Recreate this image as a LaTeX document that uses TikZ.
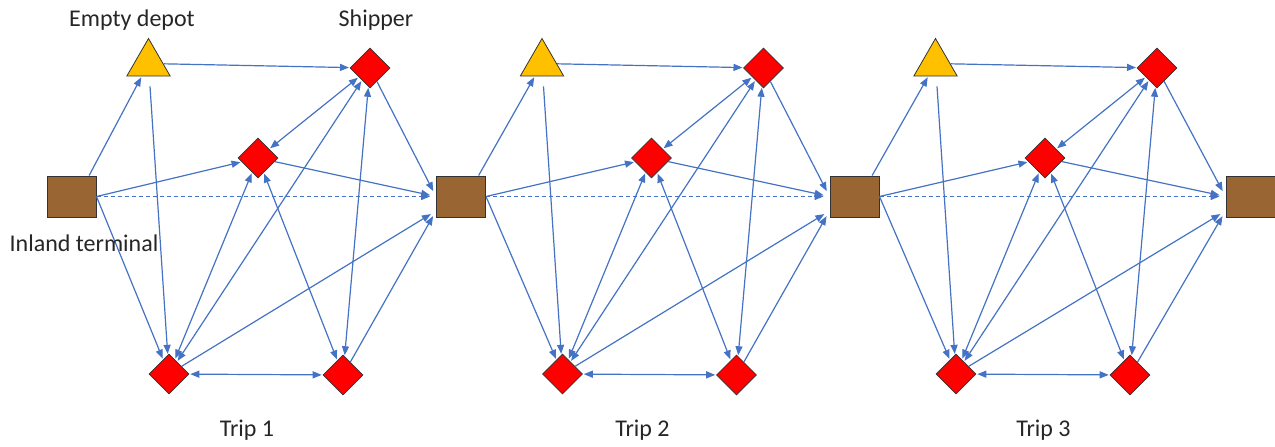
\documentclass[tikz,border=0pt]{standalone}
\usepackage{fontspec}
\setmainfont{Carlito}
\usetikzlibrary{arrows.meta,shapes.geometric}
\definecolor{edgeblue}{RGB}{68,114,196}
\definecolor{termbrown}{RGB}{153,102,51}
\definecolor{depyellow}{RGB}{255,192,0}
\tikzset{
	terminal/.style={draw=black!80,fill=termbrown,minimum width=24.5pt,minimum height=20.5pt,inner sep=0pt,line width=0.5pt},
	depot/.style={regular polygon,regular polygon sides=3,draw=black!80,fill=depyellow,minimum size=25pt,inner sep=0pt,line width=0.4pt},
	shipper/.style={diamond,draw=black!80,fill=red,minimum width=20pt,minimum height=20pt,inner sep=0pt,line width=0.4pt},
	link/.style={edgeblue,line width=0.6pt,-{Triangle[length=4.5pt,width=3.5pt]},shorten >=0.5pt},
	duallink/.style={link,{Triangle[length=4.5pt,width=3.5pt]}-{Triangle[length=4.5pt,width=3.5pt]},shorten <=0.5pt},
	nametext/.style={font=\fontsize{12}{14}\selectfont,text=black!85,inner sep=0pt}
}
\begin{document}
\begin{tikzpicture}[x=0.5pt,y=-0.5pt]
	\useasboundingbox (0,0) rectangle (1275,446);
	\foreach \i/\x in {0/71.5,1/461,2/854.5,3/1250.5}
		\node[terminal] (term\i) at (\x,196.5) {};
	\foreach \i/\tx in {0/247,1/642.5,2/1043.5}{
		\pgfmathsetmacro\dx{393.5*\i}
		\pgfmathtruncatemacro\j{\i+1}
		\node[depot] (dep\i) at (148.5+\dx,63.5) {};
		\node[shipper] (sa\i) at (370+\dx,68) {};
		\node[shipper] (sb\i) at (258+\dx,158) {};
		\node[shipper] (sc\i) at (169+\dx,374) {};
		\node[shipper] (sd\i) at (343+\dx,375) {};
		\node[nametext] (trip\i) at (\tx,430) {Trip \j};
		\draw[link] (term\i.50) -- (dep\i);
		\draw[link] (dep\i) -- (sa\i);
		\draw[link,shorten <=5pt] (dep\i) -- (sc\i);
		\draw[link] (term\i.east) -- (sb\i);
		\draw[link] (term\i.east) -- (sc\i);
		\draw[link,dash pattern=on 2pt off 1.5pt,shorten >=3pt] (term\i.east) -- (term\j.west);
		\draw[duallink] (sa\i) -- (sb\i);
		\draw[duallink] (sa\i) -- (sc\i);
		\draw[duallink] (sa\i) -- (sd\i);
		\draw[duallink] (sb\i) -- (sc\i);
		\draw[duallink] (sb\i) -- (sd\i);
		\draw[duallink] (sc\i) -- (sd\i);
		\draw[link,shorten >=3pt] (sa\i) -- (term\j.west);
		\draw[link,shorten >=3pt] (sb\i) -- (term\j.west);
		\draw[link,shorten >=3pt] (sc\i) -- (term\j.210);
		\draw[link,shorten >=3pt] (sd\i) -- (term\j.210);
	}
	\node[nametext] (deplabel) at (132,20) {Empty depot};
	\node[nametext] (shiplabel) at (376,20) {Shipper};
	\node[nametext] (termlabel) at (84,243) {Inland terminal};
\end{tikzpicture}
\end{document}
